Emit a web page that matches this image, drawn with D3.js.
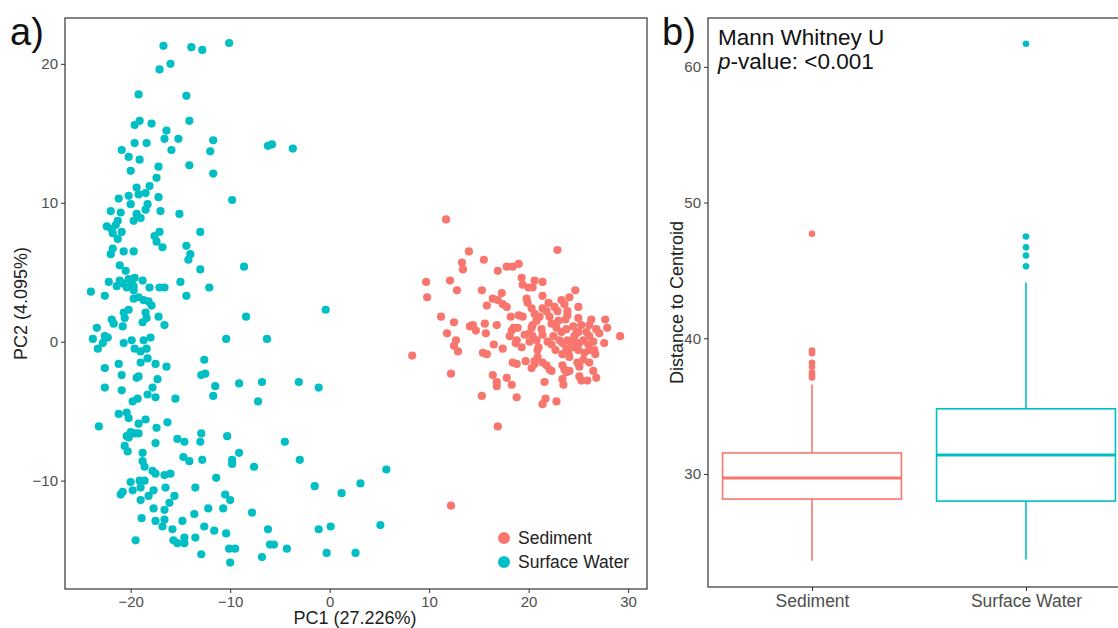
<!DOCTYPE html>
<html>
<head>
<meta charset="utf-8">
<script src="https://cdn.jsdelivr.net/npm/d3@7"></script>
<style>
  body { margin: 0; background: #fff; }
  svg { font-family: "Liberation Sans", Arial, Helvetica, sans-serif; }
  .axis text { fill: #4d4d4d; font-size: 15px; }
  .axis line, .axis path { stroke: #333; }
</style>
</head>
<body>
<div id="chart"></div>
<script>
// ---------- data: panel a (PCA scores) ----------
var groups = ["Sediment", "Surface Water"];
var colors = ["#F8766D", "#00BFC4"];

// Surface Water [PC1, PC2]
var surfaceWaterPts = [
  [-16.7,21.3],[-13.9,21.2],[-12.8,21.0],[-10.1,21.5],[-17.1,19.6],[-16.0,20.0],[-19.2,17.8],[-14.4,17.7],
  [-19.6,15.6],[-19.1,15.9],[-17.9,15.7],[-14.1,15.9],[-16.4,15.2],[-16.6,14.6],[-15.2,14.6],[-11.7,14.5],
  [-19.6,14.3],[-18.4,14.3],[-20.9,13.8],[-15.9,13.8],[-12.0,13.7],[-20.2,13.3],[-19.1,13.1],[-20.0,12.3],
  [-17.2,12.6],[-14.1,12.7],[-11.7,12.1],[-17.4,11.8],[-19.4,11.1],[-18.1,11.2],[-19.2,10.6],[-18.5,10.7],
  [-17.2,10.4],[-21.2,10.3],[-20.2,10.5],[-20.0,9.9],[-18.3,9.9],[-9.8,10.2],
  [-22.0,9.4],[-21.0,9.3],[-18.5,9.5],[-17.0,9.4],[-15.1,9.2],[-21.3,8.7],[-19.4,9.2],[-19.7,8.7],
  [-19.0,8.9],[-21.5,8.4],[-22.4,8.3],[-21.9,8.1],[-21.8,7.8],[-20.9,7.9],[-13.0,7.9],[-17.6,7.6],
  [-17.1,7.9],[-17.4,7.2],[-21.3,7.4],[-16.8,6.8],[-14.4,6.9],[-21.8,6.7],[-22.0,6.3],[-20.7,6.5],
  [-19.7,6.5],[-14.0,6.3],[-14.2,5.9],[-21.1,5.5],[-20.5,5.1],[-13.0,5.2],[-8.6,5.4],[-22.2,4.3],
  [-21.1,4.4],[-21.4,4.0],[-20.8,4.2],[-20.2,4.5],[-19.9,4.2],[-19.6,4.6],[-18.8,4.4],[-20.4,3.9],
  [-19.7,4.0],[-15.0,4.3],[-12.1,3.9],[-18.1,3.9],[-17.1,3.9],[-16.6,3.9],[-24.0,3.6],[-22.6,3.3],
  [-19.7,3.7],[-19.7,3.1],[-14.4,3.3],[-19.2,3.2],[-18.7,3.0],[-18.2,2.9],[-17.9,2.6],[-20.7,2.1],
  [-20.2,2.3],[-20.6,1.7],[-18.5,2.1],[-18.4,1.7],[-18.8,1.4],[-17.2,1.8],[-8.4,1.8],[-21.9,1.6],
  [-21.7,1.3],[-20.8,1.1],[-16.6,1.2],[-23.4,1.0],[-22.6,0.4],[-22.3,0.3],[-22.8,-0.1],[-23.8,0.2],
  [-23.3,-0.5],[-20.7,-0.1],[-19.9,0.1],[-18.7,0.1],[-18.0,0.3],[-19.6,-0.5],[-19.0,-0.7],[-18.4,-0.5],
  [-10.4,0.2],[-19.0,-1.5],[-18.3,-1.2],[-12.6,-1.3],[-17.5,-1.6],[-16.4,-1.8],[-21.2,-1.6],[-22.6,-1.9],
  [-20.9,-2.4],[-19.4,-2.6],[-19.2,-2.5],[-17.3,-2.7],[-12.9,-2.4],[-12.5,-2.3],[-11.5,-3.2],[-9.1,-3.0],
  [-22.6,-3.3],[-20.9,-3.5],[-17.8,-3.3],[-18.3,-3.8],[-17.5,-4.0],[-11.7,-3.9],[-19.8,-4.3],[-19.3,-4.1],
  [-15.5,-4.1],[-21.2,-5.2],[-20.4,-5.1],[-20.2,-5.5],[-19.2,-5.9],[-18.5,-5.6],[-16.3,-5.8],[-23.2,-6.1],
  [-17.4,-6.2],[-20.0,-6.5],[-19.6,-6.6],[-19.2,-6.6],[-20.4,-6.8],[-20.2,-6.9],[-20.6,-7.5],[-20.3,-7.9],
  [-17.5,-7.3],[-15.3,-7.0],[-14.6,-7.2],[-12.9,-6.6],[-13.0,-7.2],[-10.3,-6.8],[-18.8,-8.0],[-18.8,-8.6],
  [-18.6,-9.0],[-14.7,-8.3],[-14.1,-8.6],[-12.8,-8.5],[-9.1,-8.0],[-9.8,-8.5],[-9.8,-8.8],[-17.8,-9.3],
  [-17.5,-9.5],[-16.6,-9.6],[-16.0,-9.5],[-11.4,-9.8],[-20.0,-10.1],[-19.1,-10.0],[-18.6,-10.0],[-19.0,-10.5],
  [-19.8,-10.7],[-21.0,-11.0],[-20.8,-10.8],[-16.5,-10.5],[-13.5,-10.5],[-17.7,-10.7],[-18.2,-11.1],[-15.6,-11.1],
  [-16.1,-11.6],[-10.5,-11.0],[-10.0,-11.4],[-19.0,-11.4],[-17.7,-12.0],[-16.6,-12.1],[-12.2,-12.0],[-10.7,-12.0],
  [-13.6,-12.4],[-18.9,-12.7],[-17.5,-12.9],[-16.6,-12.8],[-16.8,-13.3],[-14.8,-12.9],[-15.8,-13.5],[-12.6,-13.3],
  [-11.6,-13.6],[-10.4,-13.8],[-19.5,-14.3],[-15.7,-14.3],[-15.3,-14.5],[-14.6,-14.1],[-14.6,-14.5],[-13.5,-14.1],
  [-10.1,-14.9],[-9.5,-14.9],[-12.9,-15.3],[-10.0,-15.9],
  [-6.2,14.1],[-5.8,14.2],[-3.7,13.9],[-0.4,2.3],[-6.3,0.2],[-6.8,-2.9],[-3.1,-2.9],[-1.1,-3.3],
  [-7.2,-4.3],[-4.5,-7.2],[-7.6,-9.0],[-3.0,-8.5],[5.7,-9.2],[-1.5,-10.4],[1.2,-10.9],[3.1,-10.2],
  [-7.8,-12.3],[-6.2,-13.5],[-1.1,-13.5],[0.1,-13.3],[5.1,-13.2],[-6.0,-14.6],[-5.6,-14.6],[-4.3,-14.9],
  [-6.8,-15.5],[-0.3,-15.2],[2.6,-15.2]
];

// Sediment [PC1, PC2]
var sedimentPts = [
  [11.7,8.8],[22.9,6.6],[14.0,6.5],[13.3,5.7],[13.4,5.2],[15.5,5.9],[16.9,5.1],[17.8,5.4],
  [18.4,5.4],[19.0,5.6],[9.7,4.3],[9.8,3.2],[12.1,4.4],[12.8,3.7],[15.3,3.7],[11.2,1.8],
  [12.5,1.4],[11.8,0.6],[12.7,0.1],[12.5,-0.3],[12.9,-0.7],[14.1,1.1],[14.4,1.2],[14.7,0.8],
  [15.6,1.3],[15.7,0.6],[15.8,2.6],[8.3,-1.0],[12.2,-2.3],[15.4,-0.8],[15.8,-0.9],[15.3,-3.9],
  [18.8,-4.0],[16.9,-6.1],[21.7,-4.1],[21.4,-4.5],[22.8,-4.3],[12.2,-11.8],
  [19.3,4.6],[19.4,4.1],[20.6,4.4],[21.4,4.3],[20.0,3.9],[20.4,3.9],[24.7,3.7],[24.1,3.2],
  [23.3,3.0],[21.4,3.3],[19.8,3.1],[19.9,2.8],[20.3,2.4],[17.3,3.5],[16.4,3.1],[16.9,3.0],
  [17.4,2.7],[17.8,2.5],[18.2,1.8],[19.0,1.9],[19.4,1.8],[21.4,2.4],[21.8,2.2],[22.6,2.5],
  [22.9,2.2],[23.9,2.2],[25.0,2.5],[23.9,1.9],[23.7,1.6],[21.1,1.8],[20.8,1.5],[20.4,1.2],
  [22.1,1.8],[22.3,1.3],[25.0,1.7],[26.3,1.6],[26.1,1.2],[27.7,1.6],[16.8,1.2],[18.5,1.0],
  [18.9,1.0],[20.3,1.0],[20.1,0.6],[20.4,0.4],[21.3,0.9],[21.4,0.5],[22.8,1.0],[23.3,0.7],
  [23.8,0.9],[24.5,1.1],[25.0,0.7],[24.6,0.4],[25.8,0.7],[26.1,0.4],[26.8,0.9],[27.1,0.6],
  [27.9,1.0],[29.2,0.4],[18.3,0.8],[18.1,0.4],[18.8,0.1],[18.7,-0.1],[20.1,0.0],[20.8,0.1],
  [21.9,0.0],[22.3,-0.2],[23.1,0.1],[23.4,-0.1],[23.9,0.1],[24.3,-0.2],[24.6,0.0],[25.1,-0.1],
  [25.5,0.1],[26.5,0.0],[27.6,-0.1],[16.5,-0.2],[17.4,-0.5],[23.8,-0.5],[24.5,-0.4],[25.0,-0.6],
  [25.6,-0.8],[26.1,-0.6],[26.6,-0.6],[26.7,-0.9],[23.4,-0.9],[24.1,-1.1],[20.9,-1.1],[20.6,-1.4],
  [19.7,-1.4],[18.4,-1.5],[18.8,-1.6],[21.4,-1.5],[21.8,-1.7],[23.4,-1.7],[23.6,-2.0],[24.9,-1.5],
  [25.1,-1.8],[26.1,-1.5],[20.3,-1.9],[20.6,-1.6],[22.1,-2.0],[22.3,-2.1],[23.8,-2.2],[24.1,-2.1],
  [26.5,-2.1],[26.8,-2.6],[16.4,-2.4],[17.8,-2.6],[18.3,-3.1],[21.6,-2.9],[23.4,-2.7],[23.5,-3.1],
  [25.1,-2.5],[25.3,-2.8],[25.9,-2.8],[16.8,-2.9],[16.8,-3.2],
  [19.6,0.5],[20.6,2.0],[21.0,-0.4],[22.5,0.4],[22.7,-0.6],[23.0,1.5],[24.0,-0.8],[24.8,0.6],
  [25.3,1.2],[23.6,2.7],[22.0,2.8],[20.9,-0.6],[19.3,-0.4],[26.0,-0.2],[25.5,-1.3]
];

var xTicksA = [-20, -10, 0, 10, 20, 30];
var yTicksA = [-10, 0, 10, 20];

// ---------- data: panel b (distance to centroid boxplot) ----------
var boxCats = ["Sediment", "Surface Water"];
var boxQ1 = [28.15, 28.0];
var boxMedian = [29.7, 31.4];
var boxQ3 = [31.55, 34.8];
var whiskLow = [23.6, 23.7];
var whiskHigh = [36.6, 44.1];
var sedimentOutliers = [47.7, 39.1, 38.9, 38.2, 37.9, 37.5, 37.3, 37.1];
var surfaceOutliers = [61.7, 47.5, 46.7, 46.1, 45.3];
var yTicksB = [30, 40, 50, 60];

// ---------- layout ----------
var W = 1118, H = 628;
var svg = d3.select("#chart").append("svg")
  .attr("width", W).attr("height", H);

//************************************************************
// Panel a: PCA scatter
//************************************************************
var ax = {left: 65, right: 647, top: 18, bottom: 589};

var xA = d3.scaleLinear().domain([-26.6, 31.9]).range([ax.left, ax.right]);
var yA = d3.scaleLinear().domain([-17.8, 23.3]).range([ax.bottom, ax.top]);

var minusFmt = function(d){ return d < 0 ? "\u2212" + Math.abs(d) : d; };

svg.append("g").attr("class", "axis")
  .attr("transform", "translate(0," + ax.bottom + ")")
  .call(d3.axisBottom(xA).tickValues(xTicksA).tickSize(4).tickPadding(3).tickFormat(minusFmt))
  .call(function(g){ g.select(".domain").remove(); });

svg.append("g").attr("class", "axis")
  .attr("transform", "translate(" + ax.left + ",0)")
  .call(d3.axisLeft(yA).tickValues(yTicksA).tickSize(4).tickPadding(3).tickFormat(minusFmt))
  .call(function(g){ g.select(".domain").remove(); });

var allPts = [];
sedimentPts.forEach(function(p){ allPts.push({x: p[0], y: p[1], g: 0}); });
surfaceWaterPts.forEach(function(p){ allPts.push({x: p[0], y: p[1], g: 1}); });

svg.append("g").selectAll("circle")
  .data(allPts)
  .enter().append("circle")
  .attr("cx", function(d){ return xA(d.x); })
  .attr("cy", function(d){ return yA(d.y); })
  .attr("r", 4.1)
  .attr("fill", function(d){ return colors[d.g]; });

svg.append("rect")
  .attr("x", ax.left).attr("y", ax.top)
  .attr("width", ax.right - ax.left).attr("height", ax.bottom - ax.top)
  .attr("fill", "none").attr("stroke", "#333").attr("stroke-width", 1.2);

// legend
var leg = svg.append("g").attr("transform", "translate(504,538)");
groups.forEach(function(name, i){
  leg.append("circle").attr("cx", 0).attr("cy", i * 24).attr("r", 6).attr("fill", colors[i]);
  leg.append("text").attr("x", 14).attr("y", i * 24 + 6)
    .attr("font-size", 17.5).attr("fill", "#222").text(name);
});

svg.append("text")
  .attr("x", 355).attr("y", 624)
  .attr("text-anchor", "middle").attr("font-size", 18).attr("fill", "#222")
  .text("PC1 (27.226%)");

svg.append("text")
  .attr("transform", "translate(27," + ((ax.top + ax.bottom) / 2) + ") rotate(-90)")
  .attr("text-anchor", "middle").attr("font-size", 18).attr("fill", "#222")
  .text("PC2 (4.095%)");

svg.append("text").attr("x", 10).attr("y", 45)
  .attr("font-size", 38).attr("fill", "#111").text("a)");

//************************************************************
// Panel b: boxplot
//************************************************************
var bx = {left: 708, right: 1130, top: 18, bottom: 587};

var xB = d3.scalePoint().domain(boxCats).range([bx.left, bx.right]).padding(0.486);
var yB = d3.scaleLinear().domain([21.67, 63.6]).range([bx.bottom, bx.top]);
var boxW = 0.836 * xB.step();

svg.append("g").attr("class", "axis")
  .attr("transform", "translate(0," + bx.bottom + ")")
  .call(d3.axisBottom(xB).tickSize(4).tickPadding(4))
  .call(function(g){ g.select(".domain").remove(); g.selectAll("text").style("font-size", "17.5px").attr("fill", "#333"); });

svg.append("g").attr("class", "axis")
  .attr("transform", "translate(" + bx.left + ",0)")
  .call(d3.axisLeft(yB).tickValues(yTicksB).tickSize(4).tickPadding(3))
  .call(function(g){ g.select(".domain").remove(); });

var boxes = boxCats.map(function(c, i){
  return {cat: c, q1: boxQ1[i], med: boxMedian[i], q3: boxQ3[i], lo: whiskLow[i], hi: whiskHigh[i],
          out: i === 0 ? sedimentOutliers : surfaceOutliers, col: colors[i]};
});

var bg = svg.append("g").selectAll("g").data(boxes).enter().append("g");

bg.append("line")
  .attr("x1", function(d){ return xB(d.cat); }).attr("x2", function(d){ return xB(d.cat); })
  .attr("y1", function(d){ return yB(d.hi); }).attr("y2", function(d){ return yB(d.q3); })
  .attr("stroke", function(d){ return d.col; }).attr("stroke-width", 1.6);
bg.append("line")
  .attr("x1", function(d){ return xB(d.cat); }).attr("x2", function(d){ return xB(d.cat); })
  .attr("y1", function(d){ return yB(d.q1); }).attr("y2", function(d){ return yB(d.lo); })
  .attr("stroke", function(d){ return d.col; }).attr("stroke-width", 1.6);
bg.append("rect")
  .attr("x", function(d){ return xB(d.cat) - boxW / 2; })
  .attr("y", function(d){ return yB(d.q3); })
  .attr("width", boxW)
  .attr("height", function(d){ return yB(d.q1) - yB(d.q3); })
  .attr("fill", "none").attr("stroke", function(d){ return d.col; }).attr("stroke-width", 1.6);
bg.append("line")
  .attr("x1", function(d){ return xB(d.cat) - boxW / 2; }).attr("x2", function(d){ return xB(d.cat) + boxW / 2; })
  .attr("y1", function(d){ return yB(d.med); }).attr("y2", function(d){ return yB(d.med); })
  .attr("stroke", function(d){ return d.col; }).attr("stroke-width", 3);
bg.each(function(d){
  d3.select(this).selectAll("circle").data(d.out).enter().append("circle")
    .attr("cx", xB(d.cat)).attr("cy", function(v){ return yB(v); })
    .attr("r", 3.3).attr("fill", d.col);
});

svg.append("rect")
  .attr("x", bx.left).attr("y", bx.top)
  .attr("width", bx.right - bx.left).attr("height", bx.bottom - bx.top)
  .attr("fill", "none").attr("stroke", "#333").attr("stroke-width", 1.2);

svg.append("text")
  .attr("transform", "translate(683," + ((bx.top + bx.bottom) / 2) + ") rotate(-90)")
  .attr("text-anchor", "middle").attr("font-size", 18).attr("fill", "#222")
  .text("Distance to Centroid");

svg.append("text").attr("x", 662).attr("y", 45)
  .attr("font-size", 38).attr("fill", "#111").text("b)");

svg.append("text").attr("x", 718).attr("y", 45)
  .attr("font-size", 22.5).attr("fill", "#111").text("Mann Whitney U");
var pv = svg.append("text").attr("x", 718).attr("y", 69)
  .attr("font-size", 22.5).attr("fill", "#111");
pv.append("tspan").attr("font-style", "italic").text("p");
pv.append("tspan").text("-value: <0.001");
</script>
</body>
</html>
